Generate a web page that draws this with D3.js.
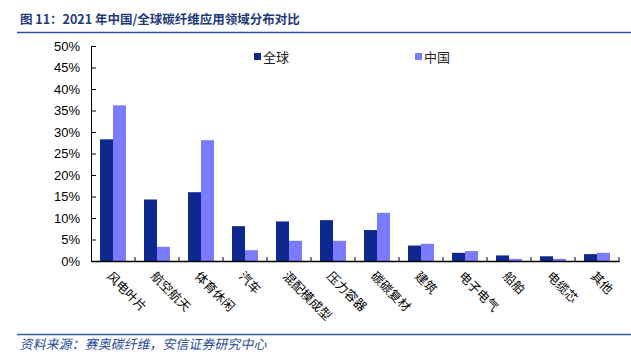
<!DOCTYPE html>
<html>
<head>
<meta charset="utf-8">
<script src="https://cdn.jsdelivr.net/npm/d3@7"></script>
<style>
	body { margin: 0; background: #fff; }
	svg { display: block; }
</style>
</head>
<body>
<svg id="chart"></svg>
<script>
var categories = ['风电叶片', '航空航天', '体育休闲', '汽车', '混配模成型', '压力容器', '碳碳复材', '建筑', '电子电气', '船舶', '电缆芯', '其他'];
var seriesNames = ['全球', '中国'];
var globalValues = [28.3, 14.3, 16.0, 8.1, 9.2, 9.5, 7.2, 3.6, 1.9, 1.3, 1.1, 1.6];
var chinaValues = [36.2, 3.3, 28.1, 2.5, 4.7, 4.7, 11.2, 4.0, 2.3, 0.5, 0.5, 1.9];
var yTicks = [0, 5, 10, 15, 20, 25, 30, 35, 40, 45, 50];

var w = 631,
	h = 361,
	colors = ['#0f2890', '#7b7bff'],
	cjk = '"Noto Sans CJK SC", sans-serif',
	svg, x, x1, y, plot;

svg = d3.select('#chart')
	.attr('width', w)
	.attr('height', h);

// title and rules
svg.append('text')
	.attr('x', 20)
	.attr('y', 24)
	.attr('fill', '#1f3a7a')
	.attr('font-family', cjk)
	.attr('font-weight', 'bold')
	.attr('font-size', 12.5)
	.text('图 11：2021 年中国/全球碳纤维应用领域分布对比');

svg.append('line')
	.attr('x1', 17).attr('x2', w)
	.attr('y1', 32.5).attr('y2', 32.5)
	.attr('stroke', '#2f4f9a')
	.attr('stroke-width', 1.5);

svg.append('line')
	.attr('x1', 17).attr('x2', w)
	.attr('y1', 334.5).attr('y2', 334.5)
	.attr('stroke', '#3a5ca8')
	.attr('stroke-width', 1.5);

svg.append('text')
	.attr('x', 20)
	.attr('y', 349)
	.attr('fill', '#2a4a9a')
	.attr('font-family', cjk)
	.attr('font-size', 13)
	.attr('transform', 'skewX(-12) translate(74,0)')
	.text('资料来源：赛奥碳纤维，安信证券研究中心');

// scales
x = d3.scaleBand()
	.domain(categories)
	.range([91, 619])
	.paddingInner(0)
	.paddingOuter(0);

x1 = d3.scaleBand()
	.domain(seriesNames)
	.range([9, 35]);

y = d3.scaleLinear()
	.domain([0, 50])
	.range([261, 46]);

plot = svg.append('g');

// bars
var groups = plot.selectAll('g.cat')
	.data(categories)
	.enter()
	.append('g')
	.attr('class', 'cat')
	.attr('transform', function (d) { return 'translate(' + x(d) + ',0)'; });

groups.each(function (d, i) {
	var vals = [globalValues[i], chinaValues[i]];
	d3.select(this).selectAll('rect')
		.data(vals)
		.enter()
		.append('rect')
		.attr('x', function (v, j) { return x1(seriesNames[j]); })
		.attr('width', x1.bandwidth())
		.attr('y', function (v) { return y(v); })
		.attr('height', function (v) { return y(0) - y(v); })
		.attr('fill', function (v, j) { return colors[j]; });
});

// y axis
var yAxis = plot.append('g')
	.attr('transform', 'translate(91,0)')
	.call(d3.axisLeft(y)
		.tickValues(yTicks)
		.tickSizeInner(-5)
		.tickSizeOuter(0)
		.tickPadding(11)
		.tickFormat(function (d) { return d + '%'; }));

yAxis.selectAll('text')
	.attr('font-family', '"Liberation Sans", Arial, sans-serif')
	.attr('font-size', 13)
	.attr('fill', '#000');
yAxis.selectAll('line, path').attr('stroke', '#000');

// x axis
var xAxis = plot.append('g')
	.attr('transform', 'translate(0,261)')
	.call(d3.axisBottom(x)
		.tickSizeInner(0)
		.tickSizeOuter(0)
		.tickFormat(''));
xAxis.select('path').attr('stroke', '#000').attr('stroke-width', 1.5);

xAxis.selectAll('line.sep')
	.data(categories)
	.enter()
	.append('line')
	.attr('class', 'sep')
	.attr('x1', function (d) { return x(d) + x.bandwidth(); })
	.attr('x2', function (d) { return x(d) + x.bandwidth(); })
	.attr('y1', -4)
	.attr('y2', 1)
	.attr('stroke', '#000');

plot.selectAll('text.xlab')
	.data(categories)
	.enter()
	.append('text')
	.attr('class', 'xlab')
	.attr('transform', function (d) {
		return 'translate(' + (x(d) + x.bandwidth() / 2 - 4) + ',274) rotate(45)';
	})
	.attr('dy', '0.35em')
	.attr('font-family', cjk)
	.attr('font-size', 12.5)
	.attr('fill', '#000')
	.text(function (d) { return d; });

// legend
var legend = svg.append('g');
var legendX = [254, 415];

seriesNames.forEach(function (name, i) {
	legend.append('rect')
		.attr('x', legendX[i])
		.attr('y', 53)
		.attr('width', 7)
		.attr('height', 7)
		.attr('fill', colors[i]);
	legend.append('text')
		.attr('x', legendX[i] + 9)
		.attr('y', 61.5)
		.attr('font-family', cjk)
		.attr('font-size', 13)
		.attr('fill', '#222')
		.text(name);
});
</script>
</body>
</html>
